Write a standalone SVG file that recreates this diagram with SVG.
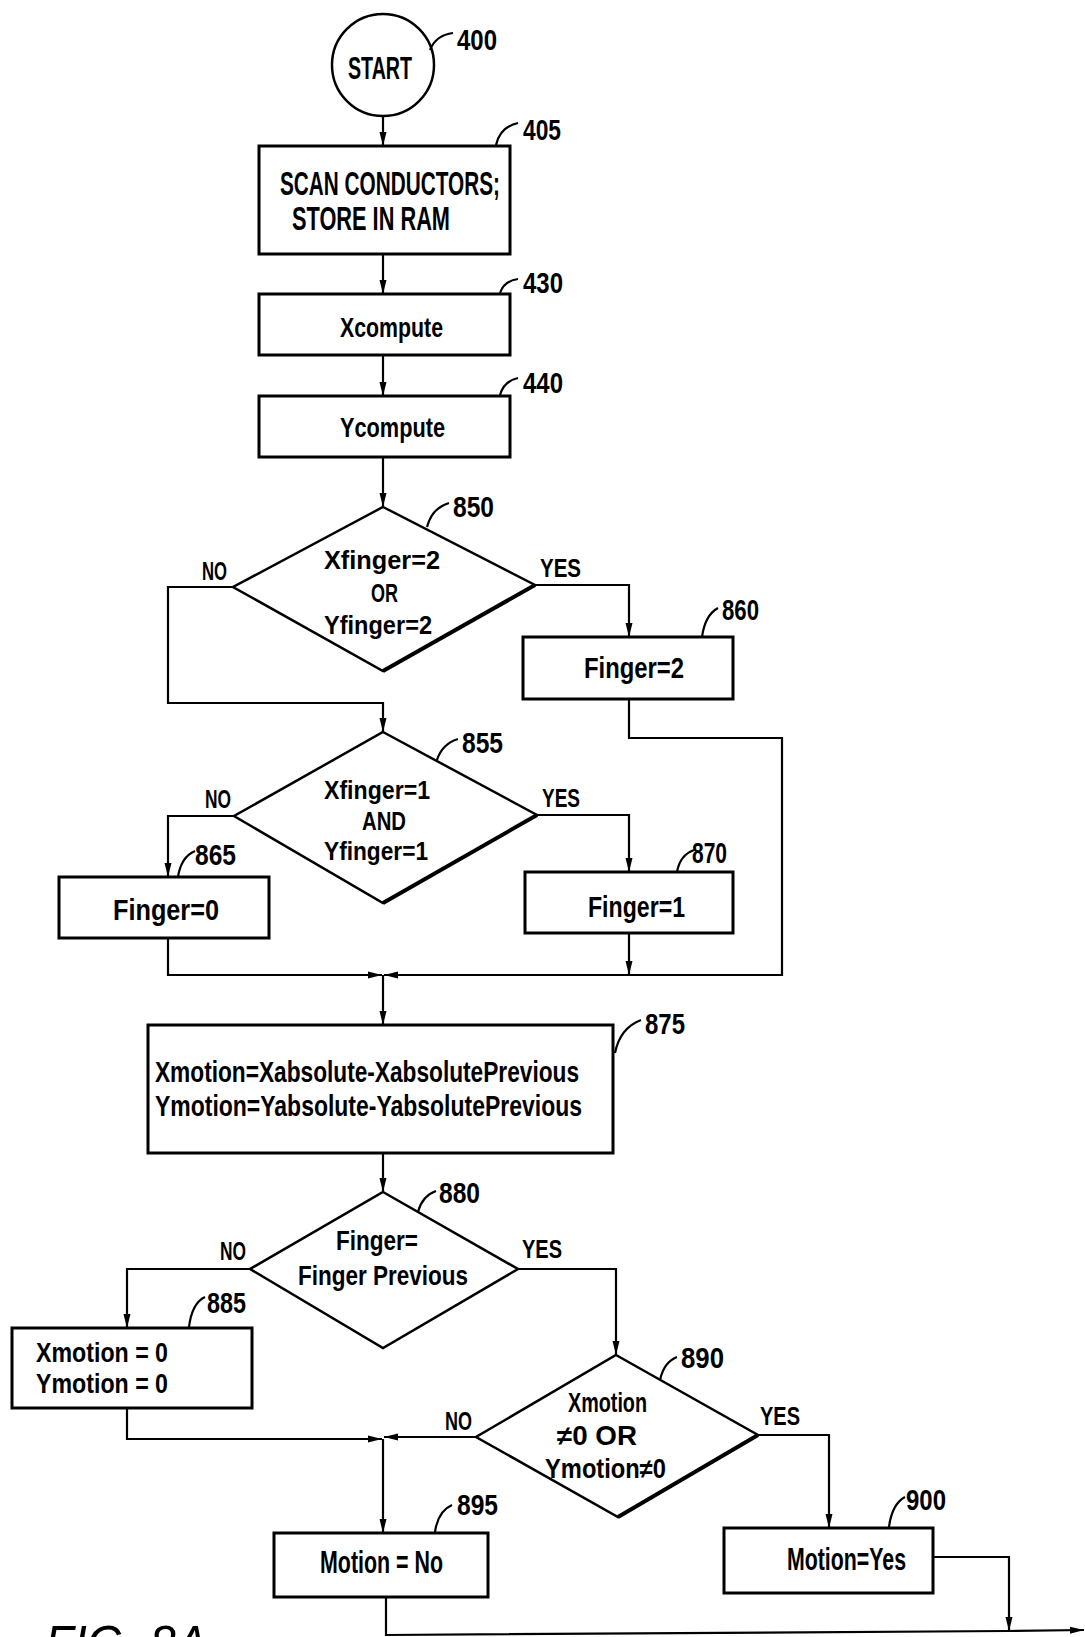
<svg xmlns="http://www.w3.org/2000/svg" width="1085" height="1637" viewBox="0 0 1085 1637">
<style>
.bg{fill:#fff}
.box{fill:none;stroke:#000;stroke-width:3}
.dia{fill:none;stroke:#000;stroke-width:2.5;stroke-linejoin:miter}
.sh{fill:none;stroke:#000;stroke-width:4}
.c{fill:none;stroke:#000;stroke-width:2.2}
.ca{fill:none;stroke:#000;stroke-width:2.2;marker-end:url(#ah)}
.ld{fill:none;stroke:#000;stroke-width:2.2}
text{font-family:"Liberation Sans Narrow","Liberation Sans",Arial,sans-serif;font-weight:bold;fill:#000}
.fig{font-family:"Liberation Sans",Arial,sans-serif;font-style:italic;font-weight:normal}
</style>
<defs>
<marker id="ah" viewBox="0 0 14 8" refX="14" refY="4" markerWidth="14" markerHeight="8" orient="auto" markerUnits="userSpaceOnUse">
<path d="M0,0.5 L14,4 L0,7.5 Z" fill="#000"/>
</marker>
</defs>
<rect class="bg" x="0" y="0" width="1085" height="1637"/>

<g id="connectors">
<path class="ca" d="M383,116 V146"/>
<path class="ca" d="M383,254 V294"/>
<path class="ca" d="M383,355 V396"/>
<path class="ca" d="M383,457 V507"/>
<path class="ca" d="M233,587 H168 V703 H383 V732"/>
<path class="ca" d="M535,585 H629 V637"/>
<path class="ca" d="M629,699 V738 H782 V975 H384"/>
<path class="ca" d="M234,816 H168 V877"/>
<path class="ca" d="M537,815 H629 V872"/>
<path class="ca" d="M168,938 V975 H382"/>
<path class="ca" d="M629,933 V975"/>
<path class="ca" d="M383,975 V1025"/>
<path class="ca" d="M383,1153 V1192"/>
<path class="ca" d="M250,1269 H127 V1328"/>
<path class="ca" d="M518,1269 H616 V1355"/>
<path class="ca" d="M127,1408 V1439 H382"/>
<path class="ca" d="M476,1437 H384"/>
<path class="ca" d="M383,1439 V1533"/>
<path class="ca" d="M758,1435 H829 V1528"/>
<path class="c" d="M386,1597 V1635 L1007,1631"/>
<path class="ca" d="M933,1557 H1009 V1631"/>
<path class="ca" d="M1007,1631 L1084,1630"/>
</g>

<g id="n400">
<circle cx="383" cy="65" r="51" fill="none" stroke="#000" stroke-width="2.5"/>
<text x="348" y="79" font-size="31" textLength="64" lengthAdjust="spacingAndGlyphs">START</text>
<path class="ld" d="M430,50 Q436,35 453,33"/>
<text x="457" y="50" font-size="29" textLength="40" lengthAdjust="spacingAndGlyphs">400</text>
</g>

<g id="n405">
<rect class="box" x="259" y="146" width="251" height="108"/>
<text x="280" y="195" font-size="33" textLength="220" lengthAdjust="spacingAndGlyphs">SCAN CONDUCTORS;</text>
<text x="292" y="230" font-size="33" textLength="158" lengthAdjust="spacingAndGlyphs">STORE IN RAM</text>
<path class="ld" d="M496,145 Q500,127 518,123"/>
<text x="523" y="140" font-size="29" textLength="38" lengthAdjust="spacingAndGlyphs">405</text>
</g>

<g id="n430">
<rect class="box" x="259" y="294" width="251" height="61"/>
<text x="340" y="337" font-size="27" textLength="103" lengthAdjust="spacingAndGlyphs">Xcompute</text>
<path class="ld" d="M500,293 Q504,281 518,279"/>
<text x="523" y="293" font-size="29" textLength="40" lengthAdjust="spacingAndGlyphs">430</text>
</g>

<g id="n440">
<rect class="box" x="259" y="396" width="251" height="61"/>
<text x="340" y="437" font-size="27" textLength="105" lengthAdjust="spacingAndGlyphs">Ycompute</text>
<path class="ld" d="M500,395 Q504,381 518,378"/>
<text x="523" y="393" font-size="29" textLength="40" lengthAdjust="spacingAndGlyphs">440</text>
</g>

<g id="n850">
<path class="dia" d="M383,507 L535,585 L383,671 L233,587 Z"/>
<path class="sh" d="M535,585 L383,671"/>
<text x="324" y="569" font-size="26" textLength="116" lengthAdjust="spacingAndGlyphs">Xfinger=2</text>
<text x="371" y="602" font-size="26" textLength="27" lengthAdjust="spacingAndGlyphs">OR</text>
<text x="324" y="634" font-size="26" textLength="108" lengthAdjust="spacingAndGlyphs">Yfinger=2</text>
<text x="202" y="580" font-size="25" textLength="25" lengthAdjust="spacingAndGlyphs">NO</text>
<text x="540" y="577" font-size="25" textLength="41" lengthAdjust="spacingAndGlyphs">YES</text>
<path class="ld" d="M427,527 Q432,508 449,503"/>
<text x="453" y="517" font-size="29" textLength="41" lengthAdjust="spacingAndGlyphs">850</text>
</g>

<g id="n860">
<rect class="box" x="523" y="637" width="210" height="62"/>
<text x="584" y="678" font-size="30" textLength="100" lengthAdjust="spacingAndGlyphs">Finger=2</text>
<path class="ld" d="M702,637 Q705,615 718,608"/>
<text x="722" y="620" font-size="29" textLength="37" lengthAdjust="spacingAndGlyphs">860</text>
</g>

<g id="n855">
<path class="dia" d="M383,732 L537,815 L383,903 L234,816 Z"/>
<path class="sh" d="M537,815 L383,903"/>
<text x="324" y="799" font-size="26" textLength="106" lengthAdjust="spacingAndGlyphs">Xfinger=1</text>
<text x="362" y="830" font-size="26" textLength="44" lengthAdjust="spacingAndGlyphs">AND</text>
<text x="324" y="860" font-size="26" textLength="104" lengthAdjust="spacingAndGlyphs">Yfinger=1</text>
<text x="205" y="808" font-size="25" textLength="26" lengthAdjust="spacingAndGlyphs">NO</text>
<text x="542" y="807" font-size="25" textLength="38" lengthAdjust="spacingAndGlyphs">YES</text>
<path class="ld" d="M437,760 Q442,744 458,739"/>
<text x="462" y="753" font-size="29" textLength="41" lengthAdjust="spacingAndGlyphs">855</text>
</g>

<g id="n865">
<rect class="box" x="59" y="877" width="210" height="61"/>
<text x="113" y="920" font-size="30" textLength="106" lengthAdjust="spacingAndGlyphs">Finger=0</text>
<path class="ld" d="M178,877 Q181,857 195,851"/>
<text x="195" y="865" font-size="29" textLength="41" lengthAdjust="spacingAndGlyphs">865</text>
</g>

<g id="n870">
<rect class="box" x="525" y="872" width="208" height="61"/>
<text x="588" y="917" font-size="30" textLength="97" lengthAdjust="spacingAndGlyphs">Finger=1</text>
<path class="ld" d="M677,872 Q680,855 694,850"/>
<text x="692" y="863" font-size="29" textLength="35" lengthAdjust="spacingAndGlyphs">870</text>
</g>

<g id="n875">
<rect class="box" x="148" y="1025" width="465" height="128"/>
<text x="155" y="1082" font-size="29" textLength="424" lengthAdjust="spacingAndGlyphs">Xmotion=Xabsolute-XabsolutePrevious</text>
<text x="155" y="1116" font-size="29" textLength="427" lengthAdjust="spacingAndGlyphs">Ymotion=Yabsolute-YabsolutePrevious</text>
<path class="ld" d="M615,1053 Q620,1028 641,1020"/>
<text x="645" y="1034" font-size="29" textLength="40" lengthAdjust="spacingAndGlyphs">875</text>
</g>

<g id="n880">
<path class="dia" d="M383,1192 L518,1269 L383,1348 L250,1269 Z"/>
<text x="336" y="1250" font-size="28" textLength="82" lengthAdjust="spacingAndGlyphs">Finger=</text>
<text x="298" y="1285" font-size="28" textLength="170" lengthAdjust="spacingAndGlyphs">Finger Previous</text>
<text x="220" y="1260" font-size="25" textLength="26" lengthAdjust="spacingAndGlyphs">NO</text>
<text x="522" y="1258" font-size="25" textLength="40" lengthAdjust="spacingAndGlyphs">YES</text>
<path class="ld" d="M418,1212 Q422,1196 436,1191"/>
<text x="439" y="1203" font-size="29" textLength="41" lengthAdjust="spacingAndGlyphs">880</text>
</g>

<g id="n885">
<rect class="box" x="12" y="1328" width="240" height="80"/>
<text x="36" y="1362" font-size="28" textLength="132" lengthAdjust="spacingAndGlyphs">Xmotion = 0</text>
<text x="36" y="1393" font-size="28" textLength="132" lengthAdjust="spacingAndGlyphs">Ymotion = 0</text>
<path class="ld" d="M189,1327 Q192,1303 205,1297"/>
<text x="207" y="1313" font-size="29" textLength="39" lengthAdjust="spacingAndGlyphs">885</text>
</g>

<g id="n890">
<path class="dia" d="M616,1355 L758,1435 L618,1517 L476,1437 Z"/>
<path class="sh" d="M758,1435 L618,1517"/>
<text x="568" y="1412" font-size="27" textLength="79" lengthAdjust="spacingAndGlyphs">Xmotion</text>
<text x="557" y="1445" font-size="27" textLength="80" lengthAdjust="spacingAndGlyphs">≠0  OR</text>
<text x="545" y="1478" font-size="27" textLength="121" lengthAdjust="spacingAndGlyphs">Ymotion≠0</text>
<text x="445" y="1430" font-size="25" textLength="27" lengthAdjust="spacingAndGlyphs">NO</text>
<text x="760" y="1425" font-size="25" textLength="40" lengthAdjust="spacingAndGlyphs">YES</text>
<path class="ld" d="M660,1380 Q664,1362 677,1357"/>
<text x="681" y="1368" font-size="29" textLength="43" lengthAdjust="spacingAndGlyphs">890</text>
</g>

<g id="n895">
<rect class="box" x="274" y="1533" width="214" height="64"/>
<text x="320" y="1573" font-size="31" textLength="123" lengthAdjust="spacingAndGlyphs">Motion = No</text>
<path class="ld" d="M435,1532 Q438,1511 452,1505"/>
<text x="457" y="1515" font-size="29" textLength="41" lengthAdjust="spacingAndGlyphs">895</text>
</g>

<g id="n900">
<rect class="box" x="724" y="1528" width="209" height="65"/>
<text x="787" y="1570" font-size="31" textLength="119" lengthAdjust="spacingAndGlyphs">Motion=Yes</text>
<path class="ld" d="M889,1527 Q892,1504 905,1497"/>
<text x="906" y="1510" font-size="29" textLength="40" lengthAdjust="spacingAndGlyphs">900</text>
</g>

<text class="fig" x="45" y="1662" font-size="52" textLength="162" lengthAdjust="spacingAndGlyphs">FIG. 8A</text>
</svg>
